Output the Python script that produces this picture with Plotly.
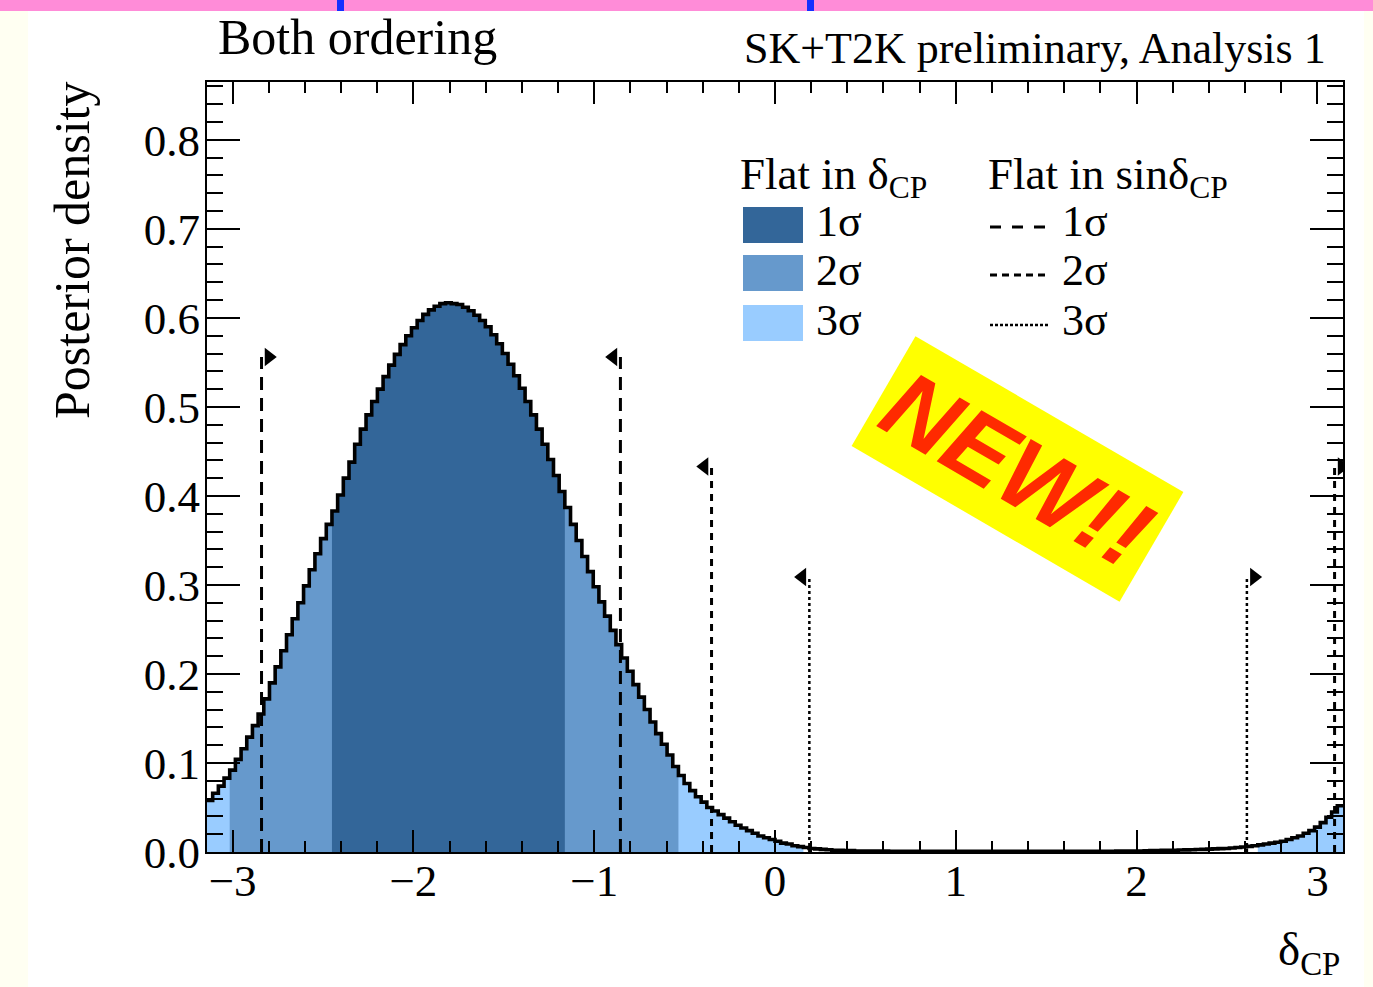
import math
import plotly.graph_objects as go

# ---------------- data ----------------
X_MIN, X_MAX = -math.pi, math.pi
N_BINS = 200

posterior = [
    0.058, 0.066, 0.074, 0.083, 0.092, 0.104, 0.116, 0.129, 0.142, 0.155,
    0.172, 0.190, 0.208, 0.226, 0.244, 0.262, 0.280, 0.299, 0.317, 0.335,
    0.352, 0.368, 0.383, 0.401, 0.420, 0.438, 0.458, 0.475, 0.491, 0.506,
    0.520, 0.534, 0.547, 0.559, 0.570, 0.580, 0.589, 0.597, 0.604, 0.609,
    0.613, 0.616, 0.617, 0.616, 0.615, 0.612, 0.608, 0.603, 0.597, 0.590,
    0.581, 0.571, 0.560, 0.548, 0.535, 0.521, 0.506, 0.491, 0.475, 0.458,
    0.441, 0.423, 0.405, 0.387, 0.368, 0.350, 0.332, 0.315, 0.298, 0.281,
    0.265, 0.249, 0.233, 0.218, 0.203, 0.188, 0.174, 0.160, 0.146, 0.133,
    0.121, 0.109, 0.096, 0.086, 0.077, 0.069, 0.062, 0.056, 0.050, 0.046,
    0.042, 0.038, 0.034, 0.030, 0.027, 0.024, 0.021, 0.018, 0.016, 0.014,
    0.012, 0.010, 0.009, 0.007, 0.006, 0.005, 0.004, 0.0035, 0.003, 0.0025,
    0.002, 0.002, 0.0015, 0.0015, 0.0012, 0.0012, 0.001, 0.001, 0.001, 0.001,
    0.0008, 0.0008, 0.0008, 0.0008, 0.0008, 0.0008, 0.0008, 0.0008, 0.0008, 0.0008,
    0.0007, 0.0007, 0.0007, 0.0007, 0.0007, 0.0007, 0.0007, 0.0007, 0.0007, 0.0007,
    0.0007, 0.0007, 0.0007, 0.0007, 0.0007, 0.0007, 0.0007, 0.0007, 0.0007, 0.0007,
    0.0008, 0.0008, 0.0008, 0.0008, 0.0008, 0.0008, 0.0008, 0.0008, 0.0008, 0.0008,
    0.001, 0.001, 0.001, 0.0012, 0.0012, 0.0014, 0.0015, 0.0016, 0.0018, 0.002,
    0.002, 0.0022, 0.0024, 0.0026, 0.0028, 0.003, 0.0032, 0.0035, 0.0038, 0.004,
    0.0045, 0.005, 0.0056, 0.0063, 0.007, 0.008, 0.009, 0.010, 0.011, 0.012,
    0.014, 0.016, 0.018, 0.021, 0.024, 0.028, 0.033, 0.039, 0.045, 0.052,
]

# Flat in delta_CP credible intervals (shaded), drawn widest first
cl_labels = ["3σ", "2σ", "1σ"]
cl_colors = ["#99ccff", "#6699cc", "#336699"]
cl_intervals = [
    [(-3.1416, 0.16), (2.68, 3.1416)],
    [(-3.01, -0.52)],
    [(-2.44, -1.15)],
]

# Flat in sin(delta_CP) interval boundaries (arrows)
sin_bound_x = [-2.84, -0.855, -0.351, 3.095, 0.19, 2.61]
sin_bound_dir = ["right", "left", "left", "right", "left", "right"]
sin_bound_level = [0, 0, 1, 1, 2, 2]
sin_level_height = [0.556, 0.433, 0.309]
sin_level_label = ["1σ", "2σ", "3σ"]

x_ticks = [-3, -2, -1, 0, 1, 2, 3]

# ---------------- styles ----------------
FONT = "Liberation Serif, Times New Roman, serif"
W, H = 1373, 987
L, R, T, B = 207, 30, 82, 135
PW, PH = W - L - R, H - T - B
Y_MAX = 0.865
sin_dash = ["13px,8px", "7px,6px", "3px,3px"]
sin_legend_dash = ["11px,11px", "7px,5px", "3px,2px"]
sin_width = [3, 3, 2.5]


def px_x(px):
    return (px - L) / PW


def px_y(py):
    return (H - B - py) / PH


bw = (X_MAX - X_MIN) / N_BINS
edges = [X_MIN + k * bw for k in range(N_BINS + 1)]
centers = [X_MIN + (k + 0.5) * bw for k in range(N_BINS)]

fig = go.Figure()

# shaded credible regions
for label, color, ivs in zip(cl_labels, cl_colors, cl_intervals):
    for lo, hi in ivs:
        idx = [i for i, c in enumerate(centers) if lo <= c <= hi]
        if not idx:
            continue
        xs = [edges[i] for i in idx] + [edges[idx[-1] + 1]]
        ys = [posterior[i] for i in idx] + [posterior[idx[-1]]]
        fig.add_trace(go.Scatter(
            x=xs, y=ys, mode="lines", line=dict(width=0, color=color, shape="hv"),
            fill="tozeroy", fillcolor=color, hoverinfo="skip", showlegend=False))

# histogram outline
fig.add_trace(go.Scatter(
    x=edges, y=posterior + [posterior[-1]], mode="lines",
    line=dict(color="black", width=3.6, shape="hv"), showlegend=False))

# sin(delta) boundaries with arrows
ARROW_DX = 0.04
for xb, d, lev in zip(sin_bound_x, sin_bound_dir, sin_bound_level):
    h = sin_level_height[lev]
    fig.add_trace(go.Scatter(
        x=[xb, xb], y=[0, h], mode="lines",
        line=dict(color="black", width=sin_width[lev], dash=sin_dash[lev]),
        showlegend=False, hoverinfo="skip"))
    sgn = 1 if d == "right" else -1
    fig.add_trace(go.Scatter(
        x=[xb + sgn * ARROW_DX], y=[h], mode="markers",
        marker=dict(symbol="triangle-" + d, size=16, color="black"),
        showlegend=False, hoverinfo="skip"))

shapes = []
annotations = []

# page decorations: cream side strips, pink top bar with blue marks
shapes.append(dict(type="rect", xref="paper", yref="paper", x0=px_x(0), x1=px_x(28),
                   y0=px_y(H), y1=px_y(0), fillcolor="#fffff2", line_width=0, layer="below"))
shapes.append(dict(type="rect", xref="paper", yref="paper", x0=px_x(1364), x1=px_x(W),
                   y0=px_y(H), y1=px_y(0), fillcolor="#fffff2", line_width=0, layer="below"))
shapes.append(dict(type="rect", xref="paper", yref="paper", x0=px_x(0), x1=px_x(W),
                   y0=px_y(11), y1=px_y(0), fillcolor="#ff8cd8", line_width=0))
for bx in (337, 807):
    shapes.append(dict(type="rect", xref="paper", yref="paper", x0=px_x(bx), x1=px_x(bx + 7),
                       y0=px_y(11), y1=px_y(0), fillcolor="#1430ff", line_width=0))

# legend (Flat in delta_CP boxes)
legend_rows_y = [225, 273, 323]
for k, (lab, col) in enumerate(zip(["1σ", "2σ", "3σ"], ["#336699", "#6699cc", "#99ccff"])):
    yc = legend_rows_y[k]
    shapes.append(dict(type="rect", xref="paper", yref="paper", x0=px_x(743), x1=px_x(803),
                       y0=px_y(yc + 18), y1=px_y(yc - 18), fillcolor=col, line_width=0))
    annotations.append(dict(text=lab, xref="paper", yref="paper", x=px_x(814), y=px_y(yc - 3),
                            xanchor="left", yanchor="middle", showarrow=False,
                            font=dict(family=FONT, size=44, color="black")))
    shapes.append(dict(type="line", xref="paper", yref="paper", x0=px_x(990), x1=px_x(1050),
                       y0=px_y(yc + 2), y1=px_y(yc + 2),
                       line=dict(color="black", width=sin_width[k], dash=sin_legend_dash[k])))
    annotations.append(dict(text=sin_level_label[k], xref="paper", yref="paper", x=px_x(1060),
                            y=px_y(yc - 3), xanchor="left", yanchor="middle", showarrow=False,
                            font=dict(family=FONT, size=44, color="black")))

annotations.append(dict(text="Flat in δ<sub>CP</sub>", xref="paper", yref="paper",
                        x=px_x(738), y=px_y(177), xanchor="left", yanchor="middle",
                        showarrow=False, font=dict(family=FONT, size=45, color="black")))
annotations.append(dict(text="Flat in sinδ<sub>CP</sub>", xref="paper", yref="paper",
                        x=px_x(986), y=px_y(177), xanchor="left", yanchor="middle",
                        showarrow=False, font=dict(family=FONT, size=45, color="black")))

# titles
annotations.append(dict(text="Both ordering", xref="paper", yref="paper",
                        x=px_x(216), y=px_y(37), xanchor="left", yanchor="middle",
                        showarrow=False, font=dict(family=FONT, size=50, color="black")))
annotations.append(dict(text="SK+T2K preliminary, Analysis 1", xref="paper", yref="paper",
                        x=px_x(1328), y=px_y(48), xanchor="right", yanchor="middle",
                        showarrow=False, font=dict(family=FONT, size=44, color="black")))
annotations.append(dict(text="Posterior density", xref="paper", yref="paper",
                        x=px_x(72), y=px_y(251), xanchor="center", yanchor="middle",
                        textangle=-90, showarrow=False,
                        font=dict(family=FONT, size=50, color="black")))
annotations.append(dict(text="δ<sub>CP</sub>", xref="paper", yref="paper",
                        x=px_x(1342), y=px_y(952), xanchor="right", yanchor="middle",
                        showarrow=False, font=dict(family=FONT, size=47, color="black")))

# NEW!! badge
cxp, cyp, blen, bwid, ang = 1017.5, 469.0, 310.0, 127.0, math.radians(30.2)
ux, uy = math.cos(ang), math.sin(ang)
vx, vy = -math.sin(ang), math.cos(ang)
corners = []
for a, b in [(-1, -1), (1, -1), (1, 1), (-1, 1)]:
    corners.append((cxp + a * blen / 2 * ux + b * bwid / 2 * vx,
                    cyp + a * blen / 2 * uy + b * bwid / 2 * vy))
path = "M " + " L ".join(f"{px_x(px):.5f},{px_y(py):.5f}" for px, py in corners) + " Z"
shapes.append(dict(type="path", xref="paper", yref="paper", path=path,
                   fillcolor="#ffff00", line_width=0, layer="above"))
annotations.append(dict(text="<b><i>NEW!!</i></b>", xref="paper", yref="paper",
                        x=px_x(cxp), y=px_y(cyp), xanchor="center", yanchor="middle",
                        textangle=30.2, showarrow=False,
                        font=dict(family="Liberation Sans, Arial, sans-serif", size=97,
                                  color="#ff2a00")))

axis_common = dict(showline=True, linewidth=2, linecolor="black", mirror="allticks",
                   ticks="inside", tickwidth=2, tickcolor="black", showgrid=False,
                   zeroline=False, tickfont=dict(family=FONT, size=45, color="black"))

fig.update_layout(
    width=W, height=H,
    margin=dict(l=L, r=R, t=T, b=B, pad=0),
    paper_bgcolor="white", plot_bgcolor="white",
    showlegend=False,
    shapes=shapes, annotations=annotations,
    xaxis=dict(range=[X_MIN, X_MAX], tickmode="array", tickvals=x_ticks,
               ticklen=22, ticklabelstandoff=-12,
               minor=dict(dtick=0.2, tick0=0, ticklen=11, tickwidth=2, ticks="inside",
                          tickcolor="black", showgrid=False),
               **axis_common),
    yaxis=dict(range=[0, Y_MAX], tickmode="linear", tick0=0, dtick=0.1, tickformat=".1f",
               ticklen=33, ticklabelstandoff=-4,
               minor=dict(dtick=0.02, tick0=0, ticklen=16, tickwidth=2, ticks="inside",
                          tickcolor="black", showgrid=False),
               **axis_common),
)

fig.write_html("out.html")
